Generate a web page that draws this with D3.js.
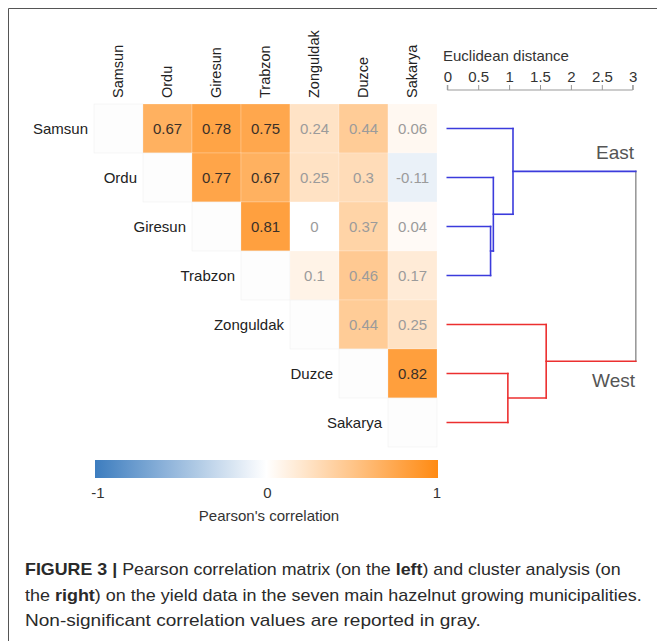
<!DOCTYPE html>
<html>
<head>
<meta charset="utf-8">
<script src="https://cdn.jsdelivr.net/npm/d3@7/dist/d3.min.js"></script>
<style>
  html, body { margin: 0; padding: 0; background: #fff; }
  svg { display: block; font-family: "Liberation Sans", Arial, sans-serif; }
</style>
</head>
<body>
<svg id="fig" width="657" height="641"></svg>
<script>
// Municipalities, in matrix / dendrogram order
const municipalities = ["Samsun", "Ordu", "Giresun", "Trabzon", "Zonguldak", "Duzce", "Sakarya"];

// Upper-triangle Pearson correlations, row by row (columns to the right of the diagonal)
const corrSamsun    = [0.67, 0.78, 0.75, 0.24, 0.44, 0.06];
const corrOrdu      = [0.77, 0.67, 0.25, 0.30, -0.11];
const corrGiresun   = [0.81, 0.00, 0.37, 0.04];
const corrTrabzon   = [0.10, 0.46, 0.17];
const corrZonguldak = [0.44, 0.25];
const corrDuzce     = [0.82];
const upperRows = [corrSamsun, corrOrdu, corrGiresun, corrTrabzon, corrZonguldak, corrDuzce, []];

// Significance flags, same layout as the correlations
const sigSamsun    = [true, true, true, false, false, false];
const sigOrdu      = [true, true, false, false, false];
const sigGiresun   = [true, false, false, false];
const sigTrabzon   = [false, false, false];
const sigZonguldak = [false, false];
const sigDuzce     = [true];
const sigRows = [sigSamsun, sigOrdu, sigGiresun, sigTrabzon, sigZonguldak, sigDuzce, []];

// Colour bar ticks
const colorTicks = [-1, 0, 1];

// Dendrogram axis ticks (Euclidean distance)
const distanceTicks = [0, 0.5, 1, 1.5, 2, 2.5, 3];

// Hierarchical clustering (merge heights in Euclidean distance)
const clusterTree = {
  height: 3.05, group: null, children: [
    { height: 1.063, group: "East", children: [
      { name: "Samsun" },
      { height: 0.745, children: [
        { name: "Ordu" },
        { height: 0.70, children: [ { name: "Giresun" }, { name: "Trabzon" } ] }
      ] }
    ] },
    { height: 1.60, group: "West", children: [
      { name: "Zonguldak" },
      { height: 0.98, children: [ { name: "Duzce" }, { name: "Sakarya" } ] }
    ] }
  ]
};

const groupColor = { East: "#3b3bdc", West: "#ec2f2f" };
const rootColor = "#9a9a9a";

const svg = d3.select("#fig");

// Frame lines
svg.append("line").attr("x1", 8.5).attr("x2", 8.5).attr("y1", 8.5).attr("y2", 641)
  .attr("stroke", "#555").attr("stroke-width", 1);
svg.append("line").attr("x1", 8.5).attr("x2", 657).attr("y1", 8.5).attr("y2", 8.5)
  .attr("stroke", "#555").attr("stroke-width", 1);

// ---------- Correlation matrix ----------
const x = d3.scaleBand().domain(municipalities).range([94, 437]).padding(0);
const y = d3.scaleBand().domain(municipalities).range([104, 447]).padding(0);

const color = d3.scaleLinear()
  .domain([-1, 0, 1])
  .range(["#3d7dbf", "#ffffff", "#ff8a12"])
  .interpolate(d3.interpolateRgb);

const cells = [];
municipalities.forEach((rowName, i) => {
  cells.push({ row: rowName, col: rowName, diag: true });
  upperRows[i].forEach((v, k) => {
    cells.push({ row: rowName, col: municipalities[i + 1 + k], value: v, sig: sigRows[i][k] });
  });
});

const matrix = svg.append("g");
matrix.selectAll("rect.cell").data(cells).join("rect")
  .attr("class", "cell")
  .attr("x", d => x(d.col))
  .attr("y", d => y(d.row))
  .attr("width", x.bandwidth())
  .attr("height", y.bandwidth())
  .attr("fill", d => d.diag ? "#fdfdfd" : color(d.value))
  .attr("stroke", d => d.diag ? "#f0f0f0" : "#ffffff")
  .attr("stroke-opacity", d => d.diag ? 1 : 0.35)
  .attr("stroke-width", 0.6);

matrix.selectAll("text.val").data(cells.filter(d => !d.diag)).join("text")
  .attr("class", "val")
  .attr("x", d => x(d.col) + x.bandwidth() / 2)
  .attr("y", d => y(d.row) + y.bandwidth() / 2)
  .attr("dy", "0.36em")
  .attr("text-anchor", "middle")
  .attr("font-size", 15)
  .attr("fill", d => d.sig ? "#3a3028" : "#9b9b9b")
  .text(d => String(+d.value.toFixed(2)));

// Row labels, right-aligned next to the diagonal cell
matrix.selectAll("text.rowlab").data(municipalities).join("text")
  .attr("class", "rowlab")
  .attr("x", d => x(d) - 6)
  .attr("y", d => y(d) + y.bandwidth() / 2)
  .attr("dy", "0.36em")
  .attr("text-anchor", "end")
  .attr("font-size", 15)
  .attr("fill", "#222")
  .text(d => d);

// Column labels, rotated
matrix.selectAll("text.collab").data(municipalities).join("text")
  .attr("class", "collab")
  .attr("transform", d => `translate(${x(d) + x.bandwidth() / 2 - 1},98) rotate(-90)`)
  .attr("dy", "0.36em")
  .attr("text-anchor", "start")
  .attr("font-size", 14.5)
  .attr("fill", "#222")
  .text(d => d);

// ---------- Colour bar ----------
const defs = svg.append("defs");
const grad = defs.append("linearGradient").attr("id", "corrGrad")
  .attr("x1", "0%").attr("x2", "100%").attr("y1", "0%").attr("y2", "0%");
d3.range(-1, 1.0001, 0.1).forEach(v => {
  grad.append("stop").attr("offset", `${(v + 1) / 2 * 100}%`).attr("stop-color", color(v));
});
svg.append("rect").attr("x", 95).attr("y", 460).attr("width", 343).attr("height", 18)
  .attr("fill", "url(#corrGrad)");

const cbScale = d3.scaleLinear().domain([-1, 1]).range([98, 437]);
svg.append("g").selectAll("text").data(colorTicks).join("text")
  .attr("x", d => cbScale(d))
  .attr("y", 498)
  .attr("text-anchor", "middle")
  .attr("font-size", 15)
  .attr("fill", "#333")
  .text(d => String(d));
svg.append("text").attr("x", 269).attr("y", 521).attr("text-anchor", "middle")
  .attr("font-size", 15).attr("fill", "#333").text("Pearson's correlation");

// ---------- Dendrogram ----------
const dx = d3.scaleLinear().domain([0, 3]).range([447.3, 632.7]);

const axis = svg.append("g").attr("transform", "translate(0,90)")
  .call(d3.axisTop(dx).tickValues(distanceTicks).tickSize(5).tickPadding(3)
    .tickFormat(d => String(d)));
axis.select(".domain").attr("stroke", "#999").attr("d", `M${dx(0)},-5V0H${dx(3)}V-5`);
axis.selectAll(".tick line").attr("stroke", "#999");
axis.selectAll(".tick text").attr("font-size", 15).attr("fill", "#333")
  .attr("font-family", "Liberation Sans, Arial, sans-serif");
svg.append("text").attr("x", 443).attr("y", 61).attr("font-size", 15).attr("fill", "#333")
  .text("Euclidean distance");

const root = d3.hierarchy(clusterTree);
// propagate group colour down the tree
root.each(n => {
  if (n.data.group) n.group = n.data.group;
  else if (n.parent) n.group = n.parent.group;
  else n.group = null;
});
root.each(n => {
  n.px = dx(n.children ? n.data.height : 0);
  n.py = n.children ? null : y(n.data.name) + y.bandwidth() / 2;
});
root.eachAfter(n => {
  if (n.children) n.py = d3.mean(n.children, c => c.py);
});

const dend = svg.append("g").attr("fill", "none").attr("stroke-width", 1.6);
const segs = [];
root.each(n => {
  if (!n.children) return;
  const ys = n.children.map(c => c.py);
  segs.push({ x1: n.px, y1: d3.min(ys), x2: n.px, y2: d3.max(ys), c: n.group ? groupColor[n.group] : rootColor });
  n.children.forEach(c => {
    segs.push({ x1: c.px, y1: c.py, x2: n.px, y2: c.py, c: groupColor[c.group] });
  });
});
dend.selectAll("line").data(segs).join("line")
  .attr("x1", d => d.x1).attr("y1", d => d.y1)
  .attr("x2", d => d.x2).attr("y2", d => d.y2)
  .attr("stroke", d => d.c)
  .attr("stroke-linecap", "square");

// Group labels
const groups = root.children;
svg.append("text").attr("x", 634).attr("y", groups[0].py - 12)
  .attr("text-anchor", "end").attr("font-size", 19).attr("fill", "#555").text("East");
svg.append("text").attr("x", 635).attr("y", groups[1].py + 26)
  .attr("text-anchor", "end").attr("font-size", 19).attr("fill", "#555").text("West");

// ---------- Caption ----------
const captionLines = [
  [["FIGURE 3 | ", true], ["Pearson correlation matrix (on the ", false], ["left", true], [") and cluster analysis (on", false]],
  [["the ", false], ["right", true], [") on the yield data in the seven main hazelnut growing municipalities.", false]],
  [["Non-significant correlation values are reported in gray.", false]]
];
const captionWidths = [596, 617, 456];
const captionBase = [575, 600.5, 626];

captionLines.forEach((parts, i) => {
  const t = svg.append("text")
    .attr("font-size", 16)
    .attr("fill", "#2a2a2a")
    .attr("font-family", "Liberation Sans, Arial, sans-serif");
  parts.forEach(([s, b]) => {
    t.append("tspan").attr("font-weight", b ? "bold" : "normal").text(s);
  });
  const w = t.node().getComputedTextLength();
  const k = captionWidths[i] / w;
  t.attr("transform", `translate(25,${captionBase[i]}) scale(${k},1)`);
});
</script>
</body>
</html>
